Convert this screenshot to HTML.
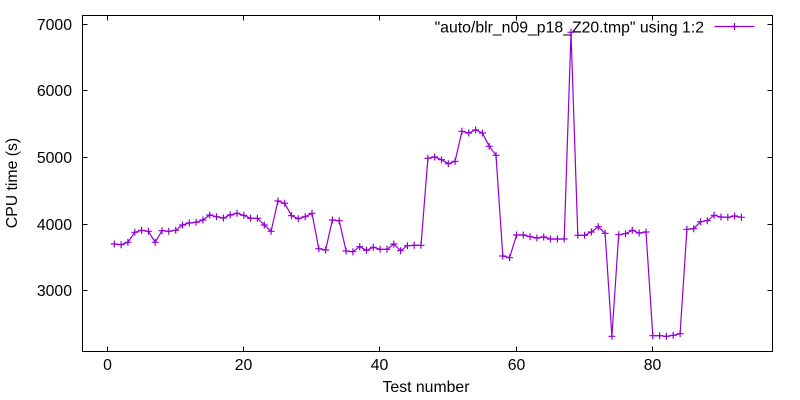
<!DOCTYPE html>
<html><head><meta charset="utf-8"><style>
html,body{margin:0;padding:0;background:#fff;}
svg{display:block;}
text{font-family:"Liberation Sans",Arial,sans-serif;font-size:15.8px;fill:#000;}
</style></head><body>
<svg width="800" height="400" viewBox="0 0 800 400" xmlns="http://www.w3.org/2000/svg">
<defs><path id="p" d="M-3.5 0h7M0 -3.5v7" stroke="#9400d3" stroke-width="1.2" fill="none"/></defs>
<rect x="0" y="0" width="800" height="400" fill="#fff"/>
<g stroke="#000" stroke-width="1" fill="none">
<path d="M82.5 24.5h5M772.5 24.5h-5M82.5 90.5h5M772.5 90.5h-5M82.5 157.5h5M772.5 157.5h-5M82.5 224.5h5M772.5 224.5h-5M82.5 290.5h5M772.5 290.5h-5"/>
<path d="M107.5 351.5v-5M107.5 15.5v5M243.5 351.5v-5M243.5 15.5v5M379.5 351.5v-5M379.5 15.5v5M516.5 351.5v-5M516.5 15.5v5M652.5 351.5v-5M652.5 15.5v5"/>
<rect x="82.5" y="15.5" width="690" height="336"/>
</g>
<g text-anchor="end">
<text x="72" y="30">7000</text>
<text x="72" y="96">6000</text>
<text x="72" y="163">5000</text>
<text x="72" y="230">4000</text>
<text x="72" y="296">3000</text>
</g>
<g text-anchor="middle">
<text x="107.5" y="370">0</text>
<text x="243.5" y="370">20</text>
<text x="379.5" y="370">40</text>
<text x="516.5" y="370">60</text>
<text x="652.5" y="370">80</text>
<text x="426" y="392">Test number</text>
<text transform="translate(17,183) rotate(-90)">CPU time (s)</text>
</g>
<text x="704" y="32.5" text-anchor="end">"auto/blr_n09_p18_Z20.tmp" using 1:2</text>
<path d="M714.5 26.5H754.5" stroke="#9400d3" stroke-width="1.2"/>
<use href="#p" x="734.5" y="26.5"/>
<polyline fill="none" stroke="#9400d3" stroke-width="1.2" stroke-linejoin="round" points="114.3,244 121.1,244.7 127.9,242.3 134.8,232.3 141.6,230.3 148.4,231.3 155.2,242.3 162.0,230.7 168.8,231.3 175.7,230.3 182.5,225 189.3,223 196.1,222.3 202.9,220 209.7,215 216.5,216.7 223.4,218 230.2,215 237.0,213.3 243.8,215.3 250.6,218.3 257.4,218.3 264.3,225 271.1,231.3 277.9,201 284.7,203.3 291.5,215.7 298.3,218.7 305.2,216.7 312.0,213.3 318.8,248.7 325.6,250 332.4,220 339.2,220.7 346.1,251 352.9,251.7 359.7,246.7 366.5,250.3 373.3,247.3 380.1,249.3 387.0,249.3 393.8,244 400.6,250.7 407.4,245.7 414.2,245.3 421.0,245.3 427.9,158.3 434.7,157 441.5,159.7 448.3,163.7 455.1,161.3 461.9,131.3 468.7,133 475.6,130 482.4,133 489.2,146.3 496.0,155.3 502.8,256 509.6,257.7 516.5,235 523.3,235 530.1,236.7 536.9,238 543.7,237 550.5,239 557.4,239 564.2,239 571.0,32.3 577.8,235.3 584.6,235.3 591.4,232 598.3,226.7 605.1,233.3 611.9,336.3 618.7,234.7 625.5,233.7 632.3,230.3 639.2,233 646.0,232 652.8,335.7 659.6,335.7 666.4,336.3 673.2,335.3 680.1,333.7 686.9,229.3 693.7,228.7 700.5,221.7 707.3,220.7 714.1,215.3 721.0,217 727.8,217.3 734.6,216 741.4,217.3"/>
<g>
<use href="#p" x="114.3" y="244"/><use href="#p" x="121.1" y="244.7"/><use href="#p" x="127.9" y="242.3"/><use href="#p" x="134.8" y="232.3"/><use href="#p" x="141.6" y="230.3"/><use href="#p" x="148.4" y="231.3"/><use href="#p" x="155.2" y="242.3"/><use href="#p" x="162.0" y="230.7"/><use href="#p" x="168.8" y="231.3"/><use href="#p" x="175.7" y="230.3"/>
<use href="#p" x="182.5" y="225"/><use href="#p" x="189.3" y="223"/><use href="#p" x="196.1" y="222.3"/><use href="#p" x="202.9" y="220"/><use href="#p" x="209.7" y="215"/><use href="#p" x="216.5" y="216.7"/><use href="#p" x="223.4" y="218"/><use href="#p" x="230.2" y="215"/><use href="#p" x="237.0" y="213.3"/><use href="#p" x="243.8" y="215.3"/>
<use href="#p" x="250.6" y="218.3"/><use href="#p" x="257.4" y="218.3"/><use href="#p" x="264.3" y="225"/><use href="#p" x="271.1" y="231.3"/><use href="#p" x="277.9" y="201"/><use href="#p" x="284.7" y="203.3"/><use href="#p" x="291.5" y="215.7"/><use href="#p" x="298.3" y="218.7"/><use href="#p" x="305.2" y="216.7"/><use href="#p" x="312.0" y="213.3"/>
<use href="#p" x="318.8" y="248.7"/><use href="#p" x="325.6" y="250"/><use href="#p" x="332.4" y="220"/><use href="#p" x="339.2" y="220.7"/><use href="#p" x="346.1" y="251"/><use href="#p" x="352.9" y="251.7"/><use href="#p" x="359.7" y="246.7"/><use href="#p" x="366.5" y="250.3"/><use href="#p" x="373.3" y="247.3"/><use href="#p" x="380.1" y="249.3"/>
<use href="#p" x="387.0" y="249.3"/><use href="#p" x="393.8" y="244"/><use href="#p" x="400.6" y="250.7"/><use href="#p" x="407.4" y="245.7"/><use href="#p" x="414.2" y="245.3"/><use href="#p" x="421.0" y="245.3"/><use href="#p" x="427.9" y="158.3"/><use href="#p" x="434.7" y="157"/><use href="#p" x="441.5" y="159.7"/><use href="#p" x="448.3" y="163.7"/>
<use href="#p" x="455.1" y="161.3"/><use href="#p" x="461.9" y="131.3"/><use href="#p" x="468.7" y="133"/><use href="#p" x="475.6" y="130"/><use href="#p" x="482.4" y="133"/><use href="#p" x="489.2" y="146.3"/><use href="#p" x="496.0" y="155.3"/><use href="#p" x="502.8" y="256"/><use href="#p" x="509.6" y="257.7"/><use href="#p" x="516.5" y="235"/>
<use href="#p" x="523.3" y="235"/><use href="#p" x="530.1" y="236.7"/><use href="#p" x="536.9" y="238"/><use href="#p" x="543.7" y="237"/><use href="#p" x="550.5" y="239"/><use href="#p" x="557.4" y="239"/><use href="#p" x="564.2" y="239"/><use href="#p" x="571.0" y="32.3"/><use href="#p" x="577.8" y="235.3"/><use href="#p" x="584.6" y="235.3"/>
<use href="#p" x="591.4" y="232"/><use href="#p" x="598.3" y="226.7"/><use href="#p" x="605.1" y="233.3"/><use href="#p" x="611.9" y="336.3"/><use href="#p" x="618.7" y="234.7"/><use href="#p" x="625.5" y="233.7"/><use href="#p" x="632.3" y="230.3"/><use href="#p" x="639.2" y="233"/><use href="#p" x="646.0" y="232"/><use href="#p" x="652.8" y="335.7"/>
<use href="#p" x="659.6" y="335.7"/><use href="#p" x="666.4" y="336.3"/><use href="#p" x="673.2" y="335.3"/><use href="#p" x="680.1" y="333.7"/><use href="#p" x="686.9" y="229.3"/><use href="#p" x="693.7" y="228.7"/><use href="#p" x="700.5" y="221.7"/><use href="#p" x="707.3" y="220.7"/><use href="#p" x="714.1" y="215.3"/><use href="#p" x="721.0" y="217"/>
<use href="#p" x="727.8" y="217.3"/><use href="#p" x="734.6" y="216"/><use href="#p" x="741.4" y="217.3"/>
</g>
</svg>
</body></html>
